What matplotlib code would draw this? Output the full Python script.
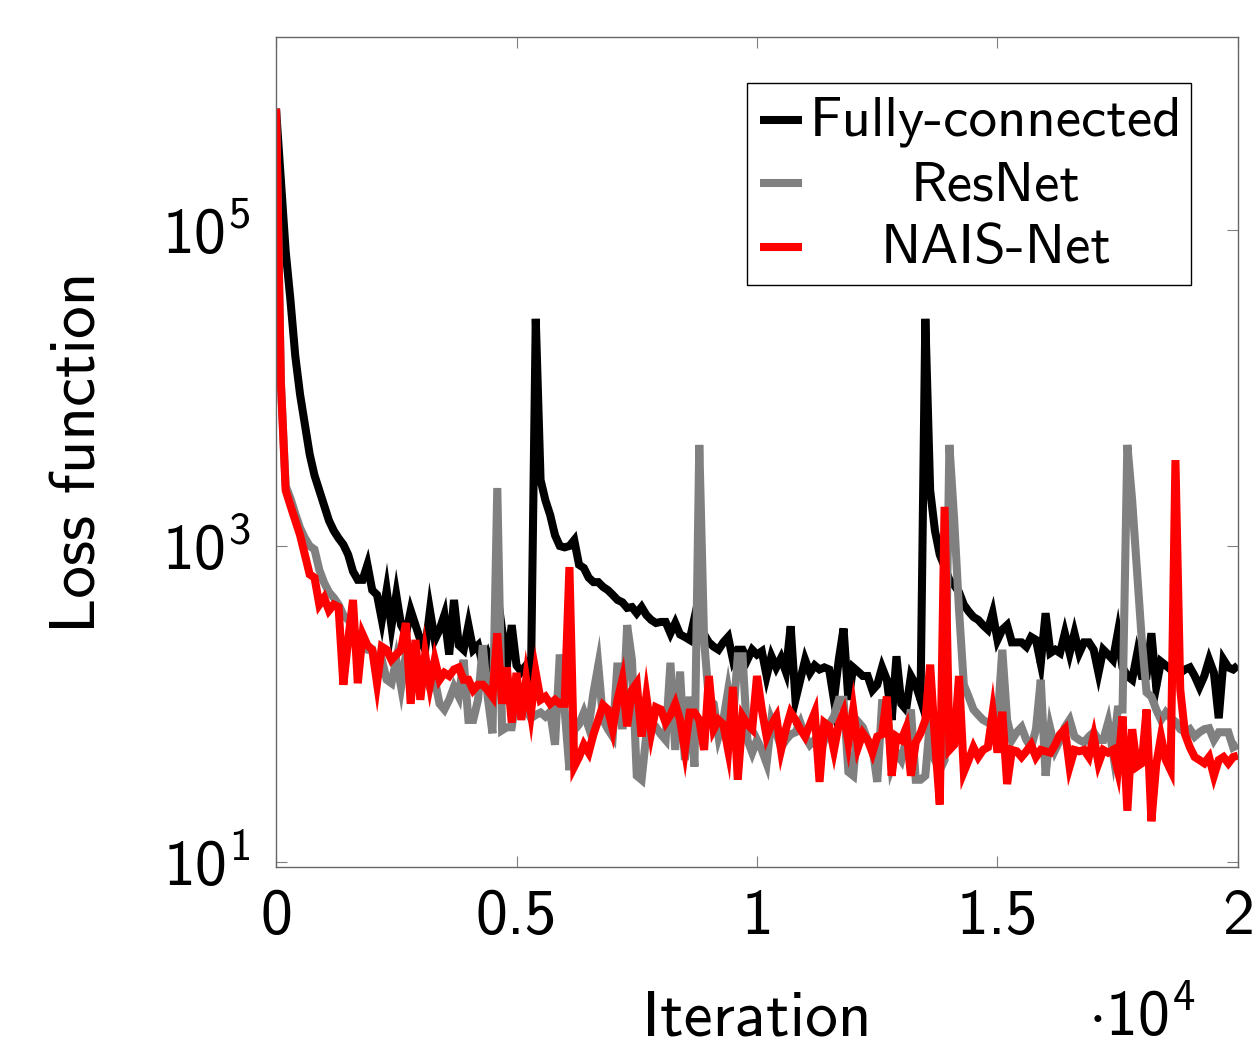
import numpy as np
import matplotlib
matplotlib.use("Agg")
import matplotlib.pyplot as plt
from matplotlib.ticker import FixedLocator, FuncFormatter, NullLocator
from matplotlib.patches import Rectangle
from matplotlib.lines import Line2D

plt.rcParams['font.family'] = ['cmss10', 'DejaVu Sans']
plt.rcParams['mathtext.fontset'] = 'custom'
plt.rcParams['mathtext.rm'] = 'cmss10'
plt.rcParams['mathtext.sf'] = 'cmss10'
plt.rcParams['mathtext.it'] = 'cmss10'
plt.rcParams['mathtext.bf'] = 'cmss10'
plt.rcParams['mathtext.fallback'] = 'cm'
plt.rcParams['axes.formatter.use_mathtext'] = True
plt.rcParams['axes.unicode_minus'] = False

# ---------------- data ----------------
iterations = list(range(0, 20001, 100))

fully_connected = [
    5.9e5, 2.1e5, 7.4e4, 3.6e4, 1.6e4, 9100, 5900, 3800, 2800, 2250,
    1800, 1450, 1250, 1120, 1020, 880, 690, 610, 610, 760,
    525, 490, 340, 525, 310, 490, 315, 275, 390, 315,
    254, 220, 390, 254, 295, 365, 205, 455, 235, 220,
    315, 220, 235, 175, 205, 165, 175, 295, 175, 315,
    175, 160, 175, 142, 27500, 2620, 1950, 1570, 1170, 1000,
    980, 1000, 1090, 760, 725, 630, 590, 590, 550, 525,
    490, 455, 440, 405, 410, 375, 410, 365, 340, 325,
    330, 330, 280, 325, 275, 265, 254, 350, 295, 275,
    245, 230, 220, 245, 265, 190, 220, 220, 190, 220,
    205, 215, 150, 200, 170, 195, 160, 310, 106, 142,
    190, 157, 175, 165, 170, 165, 106, 190, 300, 106,
    170, 160, 150, 150, 122, 132, 170, 142, 79, 200,
    100, 92, 150, 132, 106, 27500, 2250, 1250, 880, 740,
    610, 565, 510, 425, 385, 355, 340, 315, 295, 375,
    254, 295, 315, 245, 245, 245, 230, 265, 254, 180,
    375, 210, 220, 210, 280, 210, 280, 210, 245, 245,
    220, 157, 220, 205, 190, 280, 170, 150, 142, 205,
    150, 150, 280, 128, 185, 175, 165, 157, 157, 165,
    170, 150, 128, 150, 190, 157, 81, 190, 170, 165,
    175]

resnet = [
    5.9e5, 1.1e4, 2400, 2000, 1600, 1300, 1120, 1000, 950, 705,
    585, 510, 470, 425, 365, 340, 320, 235, 230, 220,
    220, 170, 190, 142, 135, 190, 128, 205, 150, 165,
    175, 150, 126, 142, 100, 92, 106, 128, 111, 190,
    79, 79, 106, 235, 111, 65, 2330, 68, 71, 71,
    114, 98, 92, 81, 85, 88, 83, 89, 55, 205,
    92, 38, 68, 74, 88, 71, 118, 175, 79, 69,
    62, 182, 69, 315, 190, 35, 33, 64, 70, 71,
    64, 59, 182, 51, 160, 44, 111, 40, 4370, 254,
    106, 100, 62, 79, 122, 79, 200, 200, 59, 49,
    59, 51, 42, 79, 66, 53, 59, 64, 66, 76,
    62, 55, 59, 66, 59, 74, 83, 106, 106, 37,
    35, 77, 71, 59, 53, 32, 101, 101, 40, 49,
    44, 59, 92, 33, 33, 35, 79, 44, 38, 44,
    4370, 1460, 395, 132, 111, 92, 85, 79, 76, 76,
    76, 220, 79, 59, 66, 71, 59, 53, 69, 142,
    35, 69, 51, 59, 71, 79, 62, 59, 57, 62,
    66, 59, 59, 76, 49, 92, 92, 4370, 1950, 700,
    254, 118, 111, 92, 79, 88, 81, 77, 69, 66,
    69, 62, 66, 69, 70, 59, 66, 66, 66, 53,
    55]

nais_net = [
    5.9e5, 1.1e4, 2250, 1800, 1450, 1170, 880, 660, 630, 425,
    470, 390, 425, 410, 132, 254, 455, 135, 275, 235,
    220, 135, 230, 220, 190, 205, 220, 325, 100, 254,
    106, 205, 132, 190, 142, 157, 150, 165, 170, 142,
    142, 122, 132, 132, 122, 111, 280, 100, 170, 76,
    157, 79, 142, 88, 157, 106, 111, 100, 106, 100,
    100, 735, 40, 46, 55, 49, 64, 79, 98, 92,
    69, 106, 142, 72, 122, 135, 62, 111, 66, 95,
    92, 76, 85, 100, 79, 51, 88, 88, 79, 51,
    150, 69, 79, 74, 51, 128, 33, 83, 74, 69,
    150, 92, 62, 74, 83, 51, 69, 88, 79, 69,
    62, 74, 88, 32, 76, 72, 51, 74, 88, 57,
    92, 53, 65, 59, 49, 62, 64, 111, 35, 62,
    59, 70, 35, 57, 65, 79, 177, 59, 23, 1770,
    51, 55, 150, 37, 44, 53, 46, 51, 53, 88,
    49, 89, 31, 51, 50, 46, 50, 55, 46, 51,
    50, 49, 55, 64, 69, 40, 51, 50, 51, 46,
    62, 42, 51, 49, 51, 38, 83, 21, 69, 40,
    42, 92, 18, 41, 62, 44, 38, 3500, 123, 64,
    53, 46, 44, 42, 46, 35, 44, 46, 42, 46,
    47]

series_names = ['Fully-connected', 'ResNet', 'NAIS-Net']
series_colors = ['black', '#808080', '#ff0000']
x_tick_values = [0, 5000, 10000, 15000, 20000]
x_tick_labels = ['0', '0.5', '1', '1.5', '2']
y_tick_values = [1e1, 1e3, 1e5]

# ---------------- figure ----------------
fig = plt.figure(figsize=(12.53, 10.52), dpi=100)
ax = fig.add_axes([0.2203, 0.1762, 0.7677, 0.7883])

lw = 5.8
for vals, name, col in zip([fully_connected, resnet, nais_net], series_names, series_colors):
    ax.plot(iterations, vals, color=col, lw=lw, label=name,
            solid_joinstyle='miter', solid_capstyle='butt')

ax.set_yscale('log')
ax.set_xlim(0, 20000)
ax.set_ylim(10 ** 0.968, 10 ** 6.223)

ax.xaxis.set_major_locator(FixedLocator(x_tick_values))
ax.set_xticklabels(x_tick_labels)
ax.yaxis.set_major_locator(FixedLocator(y_tick_values))
ax.yaxis.set_minor_locator(NullLocator())
ax.xaxis.set_minor_locator(NullLocator())
ax.yaxis.set_major_formatter(FuncFormatter(
    lambda v, p: r'$10^{%d}$' % int(round(np.log10(v)))))

for s in ax.spines.values():
    s.set_color('0.4')
    s.set_linewidth(1.0)
ax.tick_params(axis='both', which='major', direction='in', length=8,
               width=0.8, color='0.5', top=True, right=True, labelsize=46)
ax.tick_params(axis='x', pad=16)
ax.tick_params(axis='y', pad=18)

# axis labels
fig.text(80 / 1253, 1 - 452 / 1052, 'Loss function', rotation=90,
         ha='center', va='center', fontsize=47)
fig.text(757 / 1253, 1 - 1036 / 1052, 'Iteration', ha='center',
         va='baseline', fontsize=47)
fig.text(1088 / 1253, 1 - 1036 / 1052, r'$\cdot10^{4}$', ha='left',
         va='baseline', fontsize=46)

# legend (pgfplots style, centred labels)
box = Rectangle((0.4896, 0.7014), 0.9511 - 0.4896, 0.9449 - 0.7014,
                transform=ax.transAxes, facecolor='white', edgecolor='black',
                lw=1.0, zorder=10)
ax.add_patch(box)
row_line_y = [0.9003, 0.8243, 0.7472]
row_text_y = [0.8822, 0.8038, 0.7279]
for name, col, ly, ty in zip(series_names, series_colors, row_line_y, row_text_y):
    ax.add_line(Line2D([0.5031, 0.5468], [ly, ly], transform=ax.transAxes,
                       color=col, lw=lw, zorder=11, solid_capstyle='butt'))
    ax.text(0.7484, ty, name, transform=ax.transAxes, ha='center',
            va='baseline', fontsize=41, zorder=12)

fig.savefig('out.png', dpi=100)
